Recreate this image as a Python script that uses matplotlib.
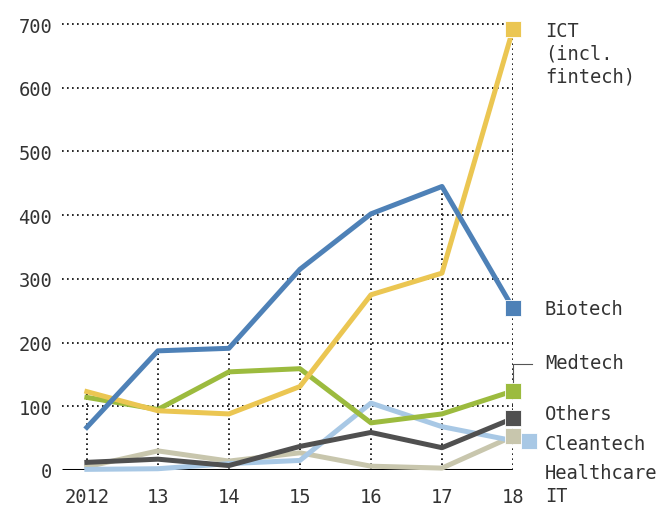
import matplotlib
matplotlib.use("Agg")
import matplotlib.pyplot as plt

years = [2012, 2013, 2014, 2015, 2016, 2017, 2018]
year_labels = ["2012", "13", "14", "15", "16", "17", "18"]

ict = [123, 93, 88, 131, 275, 309, 692]
biotech = [67, 187, 191, 315, 402, 445, 254]
medtech = [114, 95, 154, 159, 74, 88, 124]
others = [12, 17, 7, 37, 59, 35, 81]
cleantech = [1, 2, 10, 15, 105, 68, 46]
healthcare_it = [5, 30, 14, 27, 6, 3, 53]

# (name, values, colour, label text, label y, marker x shift)
series = [
	("healthcare", healthcare_it, "#c8c6ad", "Healthcare\nIT", -22, 0.0),
	("cleantech", cleantech, "#a8c8e5", "Cleantech", 41, 0.23),
	("others", others, "#505050", "Others", 88, 0.0),
	("medtech", medtech, "#9cbb3e", "Medtech", 168, 0.0),
	("ict", ict, "#ebc652", "ICT\n(incl.\nfintech)", 654, 0.0),
	("biotech", biotech, "#4e81b7", "Biotech", 254, 0.0),
]

plt.rcParams['font.family'] = ['DejaVu Sans Mono']
text_col = "#333333"

fig = plt.figure(figsize=(6.63, 5.10), dpi=100)
ax = fig.add_axes([62/663, 39/510, (513-62)/663, (471-25)/510])

x0 = 2011.65
ax.set_xlim(x0, 2018)
ax.set_ylim(0, 700)

# dotted grid
for v in range(100, 701, 100):
	ax.plot([x0, 2018], [v, v], color="black", lw=1.2, ls=(0, (1, 2)), zorder=1, clip_on=False)
tops = [max(s[1][i] for s in series) for i in range(len(years))]
ax.vlines(years, 0, tops, color="black", lw=1.2, linestyles=[(0, (1, 2))], zorder=1)
ax.plot([x0, 2018], [0, 0], color="black", lw=2.2, zorder=2, solid_capstyle="butt")

for name, vals, col, lab, ly, dx in series:
	ax.plot(years, vals, color=col, lw=3.6, zorder=3, solid_joinstyle="round", clip_on=False)
	ax.plot([2018 + dx], [vals[-1]], marker="s", ms=11.5, color=col, mec="white", mew=0.6,
		zorder=5, clip_on=False)
	ax.text(2018.45, ly, lab, ha="left", va="center", fontsize=13.5, color=text_col,
		linespacing=1.25, clip_on=False)

# leader line for Medtech
ax.plot([2018, 2018, 2018.27], [135, 166, 166], color="#555555", lw=0.8, clip_on=False, zorder=4)

ax.set_xticks(years)
ax.set_xticklabels(year_labels)
ax.set_yticks(range(0, 701, 100))
ax.tick_params(axis="both", length=0, labelsize=13.5, labelcolor=text_col)
ax.tick_params(axis="x", pad=12)
ax.tick_params(axis="y", pad=7)
for sp in ax.spines.values():
	sp.set_visible(False)

plt.savefig("out.png", dpi=100)
